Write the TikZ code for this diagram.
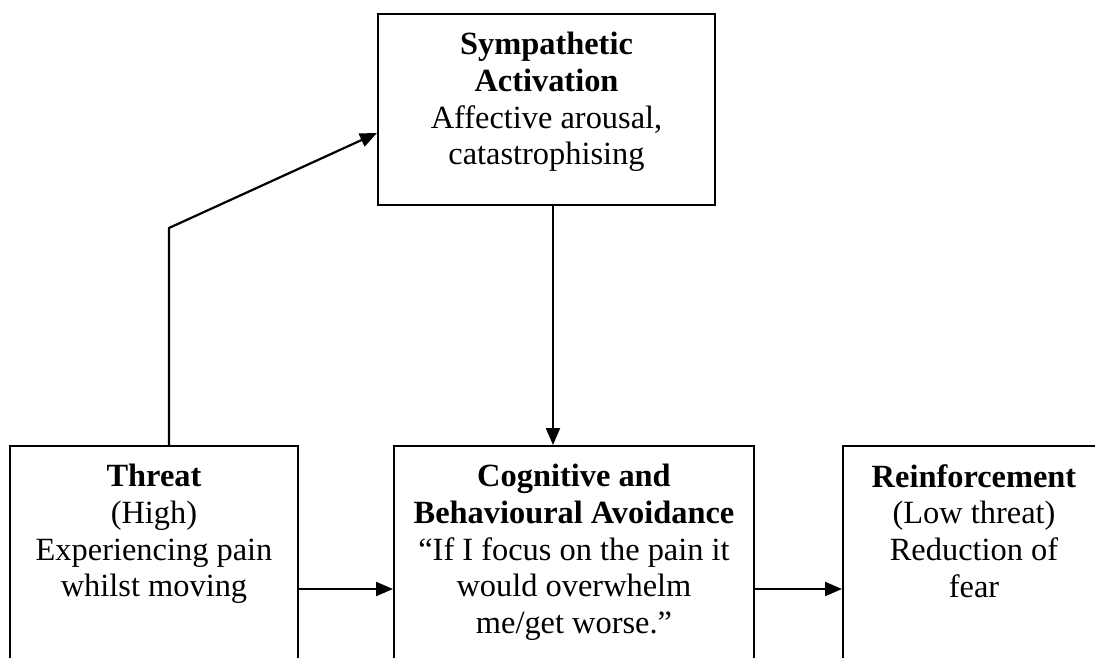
\documentclass[tikz,border=0pt]{standalone}
\usepackage{fontspec}
\setmainfont{Liberation Serif}
\usetikzlibrary{arrows.meta,positioning}
\newcommand{\stagefont}{\fontsize{32.4}{36.7}\selectfont}
\tikzset{
  stagebox/.style={draw=black,line width=2pt,anchor=north west,inner sep=0pt},
  stagetext/.style={anchor=north,align=center,inner sep=0pt,font=\stagefont},
  flow/.style={-{Triangle[length=17pt,width=14pt]},line width=2.2pt},
}

\begin{document}
\begin{tikzpicture}[x=1pt,y=-1pt]
		\useasboundingbox (0,0) rectangle (1095,657);
		\clip (0,0) rectangle (1095,657);
		% boxes
		\node[stagebox,minimum width=337pt,minimum height=191pt] (sym) at (377,13) {};
		\node[stagebox,minimum width=288pt,minimum height=260pt] (threat) at (9,445) {};
		\node[stagebox,minimum width=360pt,minimum height=260pt] (avoid) at (393,445) {};
		\node[stagebox,minimum width=262pt,minimum height=260pt] (reinf) at (842,445) {};
		% texts
		\node[stagetext] (symtext) at ([yshift=-19pt]sym.north) {\textbf{Sympathetic}\\\textbf{Activation}\\Affective arousal,\\catastrophising};
		\node[stagetext] (threattext) at ([yshift=-19pt]threat.north) {\textbf{Threat}\\(High)\\Experiencing pain\\whilst moving};
		\node[stagetext] (avoidtext) at ([yshift=-19pt]avoid.north) {\textbf{Cognitive and}\\\textbf{Behavioural Avoidance}\\``If I focus on the pain it\\would overwhelm\\me/get worse.''};
		\node[stagetext] (reinftext) at ([yshift=-19pt]reinf.north) {\textbf{Reinforcement}\\(Low threat)\\Reduction of\\fear};
		% connectors
		\coordinate (bend) at (169,228);
		\draw[flow] (threat.north west -| bend) -- (bend) -- (sym.west |- 0,133);
		\draw[flow] (sym.south -| 553,0) -- (avoid.north -| 553,0);
		\draw[flow] (threat.east |- 0,589) -- (avoid.west |- 0,589);
		\draw[flow] (avoid.east |- 0,589) -- (reinf.west |- 0,589);
	\end{tikzpicture}
\end{document}
